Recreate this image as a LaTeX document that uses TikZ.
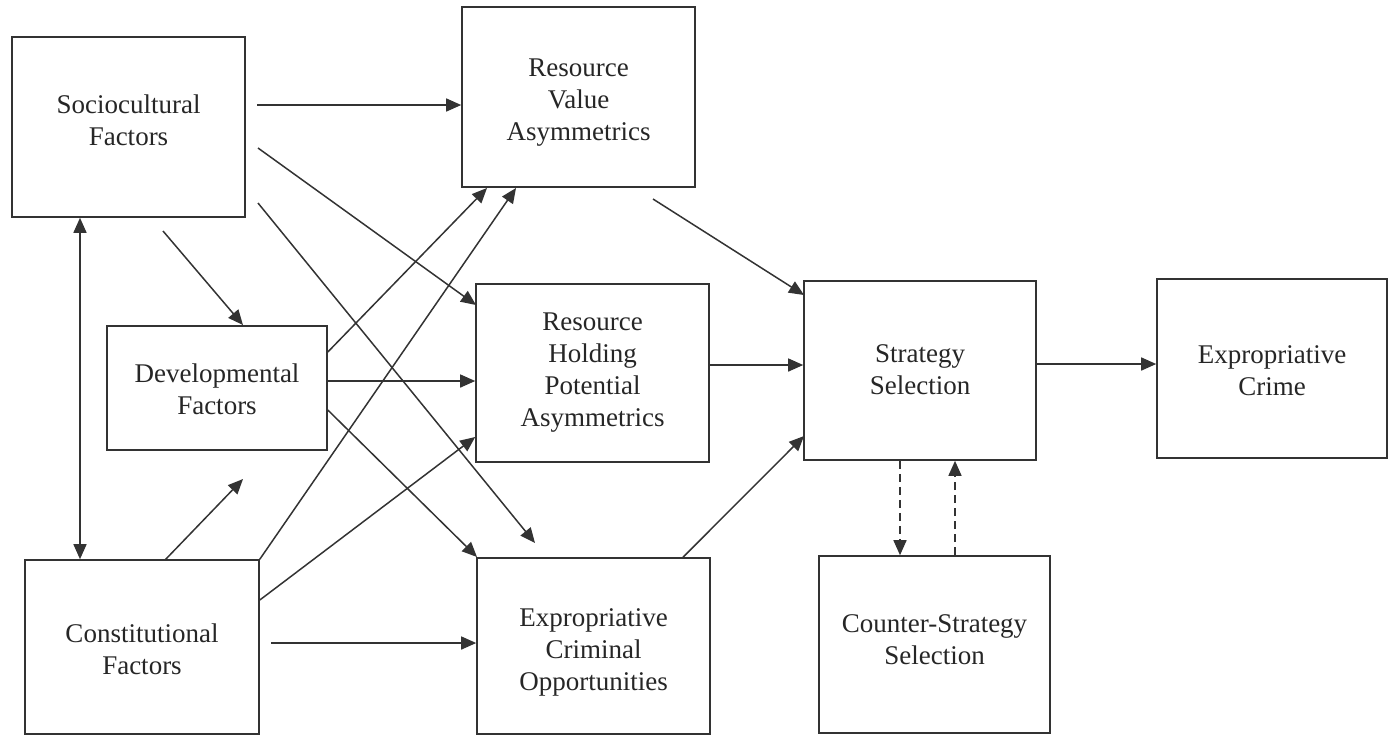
\documentclass[tikz,border=0pt]{standalone}
\usepackage{fontspec}
\setmainfont{Liberation Serif}
\usetikzlibrary{arrows.meta,calc}
\definecolor{ink}{HTML}{333333}
\definecolor{txt}{HTML}{262626}
\begin{document}
\begin{tikzpicture}[x=0.5pt,y=-0.5pt,
  box/.style={draw=ink, line width=0.8pt, rectangle, inner sep=0pt},
  lbl/.style={inner sep=0pt, align=center, text=txt,
    font=\fontsize{13.5}{16}\selectfont, execute at begin node=\strut},
  arr/.style={draw=ink, line width=0.75pt, -{Triangle[length=7.5pt,width=6.5pt]}},
  darr/.style={draw=ink, line width=0.75pt, {Triangle[length=7.5pt,width=6.5pt]}-{Triangle[length=7.5pt,width=6.5pt]}},
  dsh/.style={arr, dash pattern=on 4pt off 2.5pt}]
\useasboundingbox (0,0) rectangle (1395,736);
% boxes
\node[box, minimum width=116.5pt, minimum height=90pt] (soc) at (128.5,127) {};
\node[box, minimum width=116.5pt, minimum height=90pt] (rv) at (578.5,97) {};
\node[box, minimum width=110pt, minimum height=62pt] (dev) at (217,388) {};
\node[box, minimum width=116.5pt, minimum height=89pt] (rhp) at (592.5,373) {};
\node[box, minimum width=116pt, minimum height=89.5pt] (strat) at (920,370.5) {};
\node[box, minimum width=115pt, minimum height=89.5pt] (crime) at (1272,368.5) {};
\node[box, minimum width=117pt, minimum height=87pt] (const) at (142,647) {};
\node[box, minimum width=116.5pt, minimum height=88pt] (eco) at (593.5,646) {};
\node[box, minimum width=115.5pt, minimum height=88.5pt] (counter) at (934.5,644.5) {};
% texts
\node[lbl] (soc-t) at ($(soc.center)+(0,-2)$) {Sociocultural\\Factors\strut};
\node[lbl] (rv-t) at ($(rv.center)+(0,7.5)$) {Resource\\Value\\Asymmetrics\strut};
\node[lbl] (dev-t) at ($(dev.center)+(0,5.5)$) {Developmental\\Factors\strut};
\node[lbl] (rhp-t) at ($(rhp.center)+(0,1.5)$) {Resource\\Holding\\Potential\\Asymmetrics\strut};
\node[lbl] (strat-t) at ($(strat.center)+(0,4)$) {Strategy\\Selection\strut};
\node[lbl] (crime-t) at ($(crime.center)+(0,7)$) {Expropriative\\Crime\strut};
\node[lbl] (const-t) at ($(const.center)+(0,6.5)$) {Constitutional\\Factors\strut};
\node[lbl] (eco-t) at ($(eco.center)+(0,8)$) {Expropriative\\Criminal\\Opportunities\strut};
\node[lbl] (counter-t) at ($(counter.center)+(0,-0.5)$) {Counter-Strategy\\Selection\strut};
% free ends
\coordinate (s1) at (257,105);
\coordinate (s2) at (258,148);
\coordinate (s3) at (258,203);
\coordinate (s4) at (163,231);
\coordinate (t2) at (476,305);
\coordinate (t3) at (535,543);
\coordinate (t4) at (243,325);
\coordinate (t6) at (487,188);
\coordinate (t7) at (516,188);
\coordinate (s10) at (165,560);
\coordinate (t10) at (243,479);
\coordinate (s12) at (271,643);
\coordinate (s13) at (653,199);
\coordinate (t13) at (804,295);
\coordinate (t15) at (804,436);
% connectors
\draw[arr] (s1) -- (rv.west |- s1);
\draw[arr] (s2) -- (t2);
\draw[arr] (s3) -- (t3);
\draw[arr] (s4) -- (t4);
\draw[darr] (soc.south -| 80,0) -- (const.north -| 80,0);
\draw[arr] (dev.east |- 0,352) -- (t6);
\draw[arr] (const.north east) -- (t7);
\draw[arr] (dev.east |- 0,381) -- (rhp.west |- 0,381);
\draw[arr] (dev.east |- 0,410) -- (477,557);
\draw[arr] (s10) -- (t10);
\draw[arr] (const.east |- 0,600) -- (rhp.west |- 0,437);
\draw[arr] (s12) -- (eco.west |- s12);
\draw[arr] (s13) -- (t13);
\draw[arr] (rhp.east |- 0,365) -- (strat.west |- 0,365);
\draw[arr] (eco.north -| 683,0) -- (t15);
\draw[arr] (strat.east |- 0,364) -- (crime.west |- 0,364);
\draw[dsh] (strat.south -| 900,0) -- (counter.north -| 900,0);
\draw[dsh] (counter.north -| 955,0) -- (strat.south -| 955,0);
\end{tikzpicture}
\end{document}
